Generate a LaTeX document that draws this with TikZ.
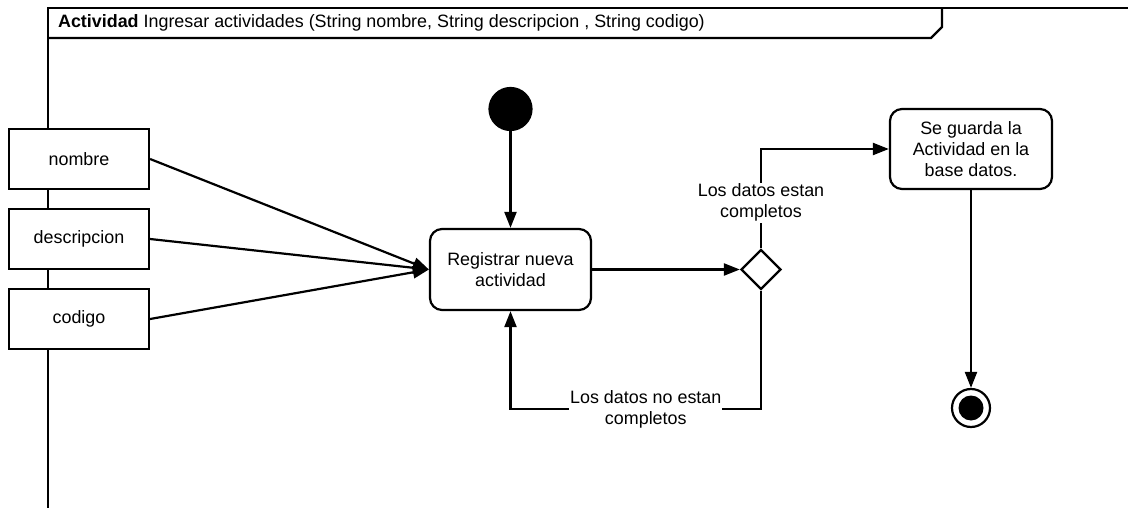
\documentclass[tikz,border=0pt]{standalone}
\usepackage{fontspec}
\setmainfont{Liberation Sans}
\usetikzlibrary{arrows.meta,shapes.geometric,positioning}
\begin{document}
\begin{tikzpicture}[x=1pt, y=-1pt, line width=2.2pt,
    font=\fontsize{17.9}{21}\selectfont,
    pin/.style = {draw, fill=white, minimum width=140pt, minimum height=60pt},
    act/.style = {draw, rounded corners=12pt, align=center, minimum height=81pt},
    lbl/.style = {fill=white, align=center, inner sep=1pt},
    arr/.style = {-{Triangle[length=16pt,width=12pt]}}]
        \useasboundingbox (0,0) rectangle (1128,508);
        \draw (48,508) -- (48,8) -- (1128,8);
        \draw (48,38) -- (931,38) -- (942,27) -- (942,8);
        \node[anchor=west, inner sep=0pt] (title) at (57,23) {\textbf{Actividad} Ingresar actividades (String nombre, String descripcion , String codigo)};
        %
        \node[pin] (nom) at (79,159) {nombre};
        \node[pin] (des) at (79,239) {descripcion};
        \node[pin] (cod) at (79,319) {codigo};
        \node[draw, circle, fill=black, minimum size=42pt] (ini) at (510.5,109) {};
        \node[act, minimum width=161pt] (reg) at (510.5,269.5) {Registrar nueva\\actividad};
        \node[draw, diamond, minimum width=40pt, minimum height=40pt, inner sep=0pt] (dec) at (761,269.5) {};
        \node[act, minimum width=162pt, minimum height=80pt] (gua) at (971,149) {Se guarda la\\Actividad en la\\base datos.};
        \node[draw, circle, fill=white, minimum size=38pt] (fin) at (971,408) {};
        \node[circle, fill=black, minimum size=25pt] at (fin) {};
        \coordinate (vuelta) at (510.5,409);
        %
        \draw[arr] (nom.east) -- (reg.west);
        \draw[arr] (des.east) -- (reg.west);
        \draw[arr] (cod.east) -- (reg.west);
        \draw[arr] (ini) -- (reg);
        \draw[arr] (reg) -- (dec);
        \draw[arr] (dec.north) |- node[lbl, pos=0.23] {Los datos estan\\completos} (gua.west);
        \draw[arr] (dec.south) |- node[lbl, pos=0.73] {Los datos no estan\\completos} (vuelta) -- (reg.south);
        \draw[arr] (gua) -- (fin);
\end{tikzpicture}
\end{document}
